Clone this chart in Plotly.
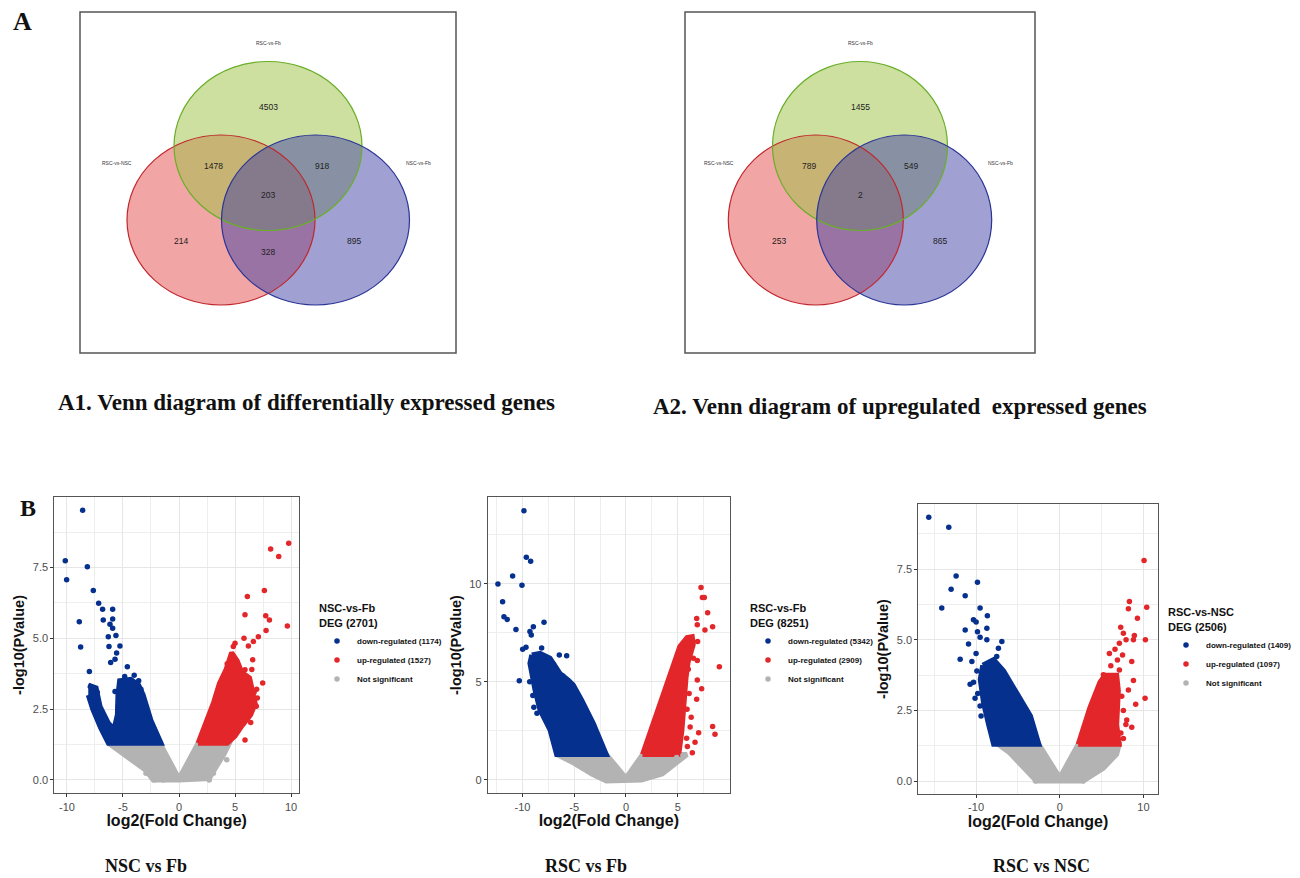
import plotly.graph_objects as go

W, H = 1300, 878

# ---------------- Venn data ----------------
venn_sets = ["RSC-vs-NSC", "RSC-vs-Fb", "NSC-vs-Fb"]
venn_regions = ["RSC-vs-Fb only", "RSC-vs-NSC & RSC-vs-Fb", "RSC-vs-Fb & NSC-vs-Fb",
                "all three", "RSC-vs-NSC only", "RSC-vs-NSC & NSC-vs-Fb", "NSC-vs-Fb only"]
a1_counts = [4503, 1478, 918, 203, 214, 328, 895]
a2_counts = [1455, 789, 549, 2, 253, None, 865]

# ---------------- Volcano data ----------------
# NSC-vs-Fb
v1_down_n, v1_up_n = 1174, 1527
v1_down_x = [-8.6, -10.15, -10.03, -8.18, -8.9, -8.78, -7.65, -7.17, -6.82, -5.92, -6.76, -5.92, -6.16, -5.92,
             -6.31, -5.63, -6.25, -5.27, -5.57, -6.1, -5.71, -8.0, -4.61, -5.71, -5.42, -5.21, -4.85,
             -7.9, -7.6, -7.3, -7.5, -7.2, -6.9, -4.0, -3.6, -3.4]
v1_down_y = [9.52, 7.74, 7.07, 7.53, 5.59, 4.69, 6.69, 6.24, 6.03, 6.03, 5.65, 5.68, 5.5, 5.36,
             5.06, 5.1, 4.71, 4.73, 4.48, 4.15, 4.26, 3.83, 4.0, 3.12, 2.61, 2.3, 3.65,
             3.3, 3.25, 3.1, 2.6, 2.3, 2.0, 3.7, 3.5, 3.2]
v1_down_cloud_x = [-8.1, -7.4, -7.05, -6.3, -5.8, -5.5, -5.45, -5.3, -4.3, -3.6, -3.2, -2.5, -1.6, -6.3, -7.0, -7.7, -8.1]
v1_down_cloud_y = [3.35, 3.25, 2.6, 2.0, 1.8, 2.3, 3.0, 3.5, 3.55, 3.35, 3.0, 2.1, 1.3, 1.3, 1.85, 2.5, 3.0]
v1_up_x = [9.79, 8.18, 8.9, 7.62, 6.1, 5.89, 7.74, 8.07, 9.67, 7.77, 7.08, 6.64, 5.8, 5.0, 4.85, 6.19,
           6.58, 7.47, 6.93, 6.99, 6.4, 5.89, 5.15, 5.89, 6.5, 6.7, 6.9, 6.2, 4.3, 3.9]
v1_up_y = [8.36, 8.15, 7.89, 6.69, 6.48, 5.83, 5.8, 5.65, 5.44, 5.28, 5.06, 4.89, 5.0, 4.83, 4.71, 4.73,
           4.24, 3.42, 3.2, 2.89, 2.03, 1.41, 1.77, 3.89, 3.9, 3.1, 2.6, 2.3, 4.1, 3.6]
v1_up_cloud_x = [1.7, 2.5, 3.1, 3.6, 4.2, 4.7, 5.2, 5.6, 6.3, 6.8, 6.4, 5.6, 5.0, 4.3, 1.7]
v1_up_cloud_y = [1.3, 2.1, 2.75, 3.4, 3.9, 4.5, 4.2, 3.8, 3.6, 2.7, 2.3, 1.9, 1.55, 1.3, 1.3]
v1_ns_x = [4.26, 3.07, 2.7, -2.95, -2.2, -1.4]
v1_ns_y = [0.71, 0.24, 0.0, 0.24, 0.0, 0.0]
v1_ns_cloud_x = [-6.3, -1.7, 0.0, 1.7, 4.5, 4.0, 3.3, 2.7, 0.0, -2.3, -3.0, -4.5, -5.5, -6.3]
v1_ns_cloud_y = [1.3, 1.3, 0.05, 1.3, 1.3, 0.9, 0.45, 0.05, 0.0, 0.0, 0.35, 0.8, 1.1, 1.3]

# RSC-vs-Fb
v2_down_n, v2_up_n = 5342, 2909
v2_down_x = [-9.86, -9.63, -9.21, -10.95, -12.37, -10.05, -11.92, -11.79, -11.47, -7.92, -10.63, -8.95,
             -9.28, -9.15, -9.66, -9.98, -8.15, -10.31, -6.44, -5.73, -9.3, -9.0, -8.9, -8.6, -7.0, -6.1]
v2_down_y = [13.72, 11.34, 11.14, 10.39, 9.98, 9.92, 9.08, 8.32, 8.18, 8.03, 7.67, 7.81,
             7.56, 7.39, 6.76, 6.66, 6.72, 5.06, 6.37, 6.33, 5.0, 4.3, 3.7, 3.4, 5.9, 5.3]
v2_down_cloud_x = [-9.1, -8.3, -7.34, -6.38, -5.57, -5.09, -4.28, -3.16, -1.9, -6.7, -7.34, -8.31, -8.79, -9.28, -9.1]
v2_down_cloud_y = [6.37, 6.45, 6.2, 5.43, 5.09, 4.84, 4.07, 2.89, 1.3, 1.3, 2.55, 3.57, 4.58, 5.94, 6.37]
v2_up_x = [7.25, 7.38, 7.57, 7.89, 6.83, 6.89, 8.37, 7.63, 9.02, 6.92, 6.51, 6.89, 6.02, 6.89, 7.31,
           6.83, 8.37, 8.6, 7.02, 5.86, 6.67, 6.41, 5.93, 6.1, 5.9, 6.3, 6.2]
v2_up_y = [9.81, 9.3, 9.3, 8.52, 8.23, 7.91, 7.81, 7.64, 5.77, 7.05, 6.2, 6.08, 5.64, 5.09, 4.65,
           4.11, 2.72, 2.33, 2.41, 2.12, 1.92, 1.39, 1.7, 4.4, 3.6, 3.2, 2.7]
v2_up_cloud_x = [1.6, 3.0, 4.2, 4.6, 5.2, 5.9, 6.4, 6.5, 6.0, 5.8, 5.6, 5.4, 5.1, 1.6]
v2_up_cloud_y = [1.3, 3.4, 5.2, 5.95, 6.8, 7.25, 7.3, 6.9, 6.0, 5.2, 3.8, 2.5, 1.3, 1.3]
v2_ns_x = [-1.77, 4.9, 5.5]
v2_ns_y = [0.0, 1.15, 1.25]
v2_ns_cloud_x = [-6.7, -1.9, 0.0, 1.6, 5.9, 5.0, 3.5, 1.5, -1.9, -3.3, -5.0, -6.7]
v2_ns_cloud_y = [1.3, 1.3, 0.1, 1.3, 1.3, 0.9, 0.3, 0.0, -0.05, 0.3, 0.85, 1.3]

# RSC-vs-NSC
v3_down_n, v3_up_n = 1409, 1097
v3_down_x = [-15.65, -13.26, -12.38, -12.98, -9.83, -11.3, -14.1, -9.52, -8.65, -10.31, -9.99, -11.3, -9.83,
             -8.71, -9.52, -8.71, -6.92, -10.9, -10.0, -11.9, -10.5, -10.71, -7.33, -7.53, -10.12, -9.52,
             -9.9, -10.3, -9.8, -9.4, -6.3, -5.8]
v3_down_y = [9.34, 8.99, 7.26, 6.79, 7.04, 6.56, 6.13, 6.13, 5.85, 5.71, 5.63, 5.35, 5.29,
             5.41, 5.09, 5.0, 4.94, 4.85, 4.52, 4.31, 4.23, 3.43, 4.7, 4.41, 2.93, 2.66,
             3.9, 3.5, 3.1, 2.3, 3.4, 3.0]
v3_down_cloud_x = [-9.2, -7.9, -6.7, -5.9, -4.7, -3.5, -2.5, -7.9, -8.5, -9.1, -9.5, -9.2]
v3_down_cloud_y = [4.1, 4.3, 3.9, 3.5, 2.9, 2.3, 1.3, 1.3, 2.0, 2.75, 3.6, 4.1]
v3_up_x = [10.07, 8.32, 8.2, 10.39, 8.8, 9.28, 7.28, 7.6, 7.92, 8.91, 10.23, 7.12, 6.6, 7.5, 5.93,
           6.89, 6.1, 8.6, 7.12, 8.8, 8.2, 10.19, 9.07, 8.0, 8.6, 7.6, 5.21, 7.4, 7.6, 7.9, 7.3]
v3_up_y = [7.81, 6.36, 6.1, 6.15, 5.0, 5.76, 5.45, 5.23, 5.0, 5.15, 5.0, 4.88, 4.67, 4.46, 4.52,
           4.29, 4.08, 4.23, 3.93, 3.56, 3.22, 2.93, 2.72, 2.16, 1.9, 1.51, 3.76, 3.0, 2.5, 2.0, 1.7]
v3_up_cloud_x = [2.2, 3.6, 4.8, 5.4, 6.8, 7.0, 6.8, 7.1, 2.2]
v3_up_cloud_y = [1.3, 2.6, 3.5, 3.75, 3.75, 3.2, 2.0, 1.3, 1.3]
v3_ns_x = [-2.9, 2.8]
v3_ns_y = [0.0, 0.0]
v3_ns_cloud_x = [-7.4, -2.5, 0.0, 2.2, 7.1, 6.8, 5.2, 2.8, -2.8, -4.0, -6.0, -7.4]
v3_ns_cloud_y = [1.3, 1.3, 0.12, 1.3, 1.3, 0.95, 0.45, 0.0, 0.0, 0.4, 1.0, 1.3]

# tick labels
v1_xticks = [-10, -5, 0, 5, 10]
v1_yticks = [0.0, 2.5, 5.0, 7.5]
v2_xticks = [-10, -5, 0, 5]
v2_yticks = [0, 5, 10]
v3_xticks = [-10, 0, 10]
v3_yticks = [0.0, 2.5, 5.0, 7.5]

# ---------------- styling ----------------
BLUE = "#06308e"
RED = "#e3262a"
GREY = "#b3b3b3"
SANS = "Liberation Sans, Arial, sans-serif"
SERIF = "Liberation Serif, Times New Roman, serif"


def px(x):
    return x / W


def py(y):
    return 1 - y / H


fig = go.Figure()

# ---------------- Venn diagrams (drawn as shapes in paper coords) ----------------
venn_fill = {"red": "#e64b4b", "green": "#9bc141", "blue": "#4141a5"}
venn_line = {"red": "#c0272d", "green": "#6aae2a", "blue": "#2a3596"}

venn_panels = [
    dict(box=(80, 12, 456, 353), counts=a1_counts,
         circles={"red": (221, 220, 94, 85), "green": (268, 146, 94, 84.5), "blue": (315.5, 220, 94, 85)},
         set_pos=[(117, 163), (268, 43), (418, 163)],
         count_pos=[(268, 107), (213, 166), (322, 166), (268, 195), (181, 241), (268, 252), (354, 241)]),
    dict(box=(685, 12, 1035, 353), counts=a2_counts,
         circles={"red": (815.8, 220, 87.5, 85), "green": (860, 146, 87.5, 84.5), "blue": (904.2, 220, 87.5, 85)},
         set_pos=[(719, 163), (860, 43), (1000, 163)],
         count_pos=[(860, 107), (809, 166), (911, 166), (860, 195), (779, 241), (860, 252), (940, 241)]),
]

shapes = []
annotations = []
for p in venn_panels:
    x0, y0, x1, y1 = p["box"]
    shapes.append(dict(type="rect", xref="paper", yref="paper", x0=px(x0), x1=px(x1), y0=py(y1), y1=py(y0),
                       line=dict(color="#555555", width=1.5), fillcolor="rgba(0,0,0,0)"))
    for key in ["red", "green", "blue"]:
        cx, cy, rx, ry = p["circles"][key]
        shapes.append(dict(type="circle", xref="paper", yref="paper",
                           x0=px(cx - rx), x1=px(cx + rx), y0=py(cy + ry), y1=py(cy - ry),
                           fillcolor=venn_fill[key], opacity=0.5, line=dict(width=0)))
    for key in ["red", "green", "blue"]:
        cx, cy, rx, ry = p["circles"][key]
        shapes.append(dict(type="circle", xref="paper", yref="paper",
                           x0=px(cx - rx), x1=px(cx + rx), y0=py(cy + ry), y1=py(cy - ry),
                           fillcolor="rgba(0,0,0,0)", line=dict(color=venn_line[key], width=1.2)))
    for name, (sx, sy) in zip(venn_sets, p["set_pos"]):
        annotations.append(dict(x=px(sx), y=py(sy), xref="paper", yref="paper", text=name, showarrow=False,
                                font=dict(family=SANS, size=5, color="#333333"), xanchor="center", yanchor="middle"))
    for c, (cx, cy) in zip(p["counts"], p["count_pos"]):
        if c is None:
            continue
        annotations.append(dict(x=px(cx), y=py(cy), xref="paper", yref="paper", text=str(c), showarrow=False,
                                font=dict(family=SANS, size=8.5, color="#222222"), xanchor="center", yanchor="middle"))

# panel texts
texts = [
    ("<b>A</b>", 22, 22, 26),
    ("<b>B</b>", 28, 508, 24),
    ("<b>A1. Venn diagram of differentially expressed genes</b>", 306, 402, 23),
    ("<b>A2. Venn diagram of upregulated  expressed genes</b>", 900, 406, 23),
    ("<b>NSC vs Fb</b>", 146, 866, 18),
    ("<b>RSC vs Fb</b>", 586, 866, 18),
    ("<b>RSC vs NSC</b>", 1041, 866, 18),
]
for t, x, y, s in texts:
    annotations.append(dict(x=px(x), y=py(y), xref="paper", yref="paper", text=t.replace("  ", "&nbsp; "),
                            showarrow=False, font=dict(family=SERIF, size=s, color="#111111"),
                            xanchor="center", yanchor="middle"))

# ---------------- Volcano plots ----------------
volcanos = [
    dict(name="NSC-vs-Fb", dn=v1_down_n, un=v1_up_n,
         down=(v1_down_x, v1_down_y), down_c=(v1_down_cloud_x, v1_down_cloud_y),
         up=(v1_up_x, v1_up_y), up_c=(v1_up_cloud_x, v1_up_cloud_y),
         ns=(v1_ns_x, v1_ns_y), ns_c=(v1_ns_cloud_x, v1_ns_cloud_y),
         xdom=(54.3, 299), ydom=(496.7, 793.3), xr=[-11.13, 10.71], yr=[-0.47, 10.0],
         xt=v1_xticks, yt=v1_yticks, yfmt=".1f", xminor=2.5, yminor=1.25,
         leg=(317, 598), leg_anchor="left"),
    dict(name="RSC-vs-Fb", dn=v2_down_n, un=v2_up_n,
         down=(v2_down_x, v2_down_y), down_c=(v2_down_cloud_x, v2_down_cloud_y),
         up=(v2_up_x, v2_up_y), up_c=(v2_up_cloud_x, v2_up_cloud_y),
         ns=(v2_ns_x, v2_ns_y), ns_c=(v2_ns_cloud_x, v2_ns_cloud_y),
         xdom=(487.7, 730), ydom=(496.7, 793.3), xr=[-13.36, 10.05], yr=[-0.68, 14.43],
         xt=v2_xticks, yt=v2_yticks, yfmt="d", xminor=2.5, yminor=2.5,
         leg=(748, 598), leg_anchor="left"),
    dict(name="RSC-vs-NSC", dn=v3_down_n, un=v3_up_n,
         down=(v3_down_x, v3_down_y), down_c=(v3_down_cloud_x, v3_down_cloud_y),
         up=(v3_up_x, v3_up_y), up_c=(v3_up_cloud_x, v3_up_cloud_y),
         ns=(v3_ns_x, v3_ns_y), ns_c=(v3_ns_cloud_x, v3_ns_cloud_y),
         xdom=(918.3, 1157.7), ydom=(504.3, 794), xr=[-16.9, 11.7], yr=[-0.46, 9.8],
         xt=v3_xticks, yt=v3_yticks, yfmt=".1f", xminor=5, yminor=1.25,
         leg=(1297, 602), leg_anchor="right"),
]

MS = 5.5
for i, v in enumerate(volcanos):
    n = i + 1
    xa = "x" if n == 1 else f"x{n}"
    ya = "y" if n == 1 else f"y{n}"
    lg = "legend" if n == 1 else f"legend{n}"
    # clouds (dense areas)
    for (cx, cy), col in [(v["ns_c"], GREY), (v["down_c"], BLUE), (v["up_c"], RED)]:
        fig.add_trace(go.Scatter(x=cx, y=cy, mode="lines", fill="toself", fillcolor=col,
                                 line=dict(color=col, width=5), xaxis=xa, yaxis=ya,
                                 showlegend=False, hoverinfo="skip", legend=lg))
    # individual points
    fig.add_trace(go.Scatter(x=v["down"][0], y=v["down"][1], mode="markers", xaxis=xa, yaxis=ya,
                             marker=dict(color=BLUE, size=MS), name=f"down-regulated ({v['dn']})",
                             legend=lg, legendgroup=f"d{n}"))
    fig.add_trace(go.Scatter(x=v["up"][0], y=v["up"][1], mode="markers", xaxis=xa, yaxis=ya,
                             marker=dict(color=RED, size=MS), name=f"up-regulated ({v['un']})",
                             legend=lg, legendgroup=f"u{n}"))
    fig.add_trace(go.Scatter(x=v["ns"][0], y=v["ns"][1], mode="markers", xaxis=xa, yaxis=ya,
                             marker=dict(color=GREY, size=MS), name="Not significant",
                             legend=lg, legendgroup=f"n{n}"))

    axis_common = dict(showline=True, mirror=True, linecolor="#555555", linewidth=1,
                       ticks="outside", ticklen=3, tickcolor="#333333", tickwidth=1,
                       showgrid=True, gridcolor="#e6e6e6", gridwidth=1.2, zeroline=False,
                       tickfont=dict(family=SANS, size=11, color="#4d4d4d"), fixedrange=True)
    xkey = "xaxis" if n == 1 else f"xaxis{n}"
    ykey = "yaxis" if n == 1 else f"yaxis{n}"
    fig.update_layout({
        xkey: dict(axis_common, domain=[px(v["xdom"][0]), px(v["xdom"][1])], range=v["xr"],
                   anchor=ya, tickvals=v["xt"], ticktext=[str(t) for t in v["xt"]],
                   minor=dict(tick0=v["xminor"], dtick=v["xminor"] * 2, showgrid=True,
                              gridcolor="#eeeeee", gridwidth=0.6),
                   title=dict(text="<b>log2(Fold Change)</b>", standoff=2,
                              font=dict(family=SANS, size=16, color="#111111"))),
        ykey: dict(axis_common, domain=[py(v["ydom"][1]), py(v["ydom"][0])], range=v["yr"],
                   anchor=xa, tickvals=v["yt"],
                   ticktext=[format(t, v["yfmt"]) if v["yfmt"] != "d" else str(int(t)) for t in v["yt"]],
                   minor=dict(tick0=v["yminor"], dtick=v["yminor"] * 2, showgrid=True,
                              gridcolor="#eeeeee", gridwidth=0.6),
                   title=dict(text="<b>-log10(PValue)</b>", standoff=4,
                              font=dict(family=SANS, size=14.5, color="#111111"))),
        lg: dict(x=px(v["leg"][0]), y=py(v["leg"][1]), xanchor=v["leg_anchor"], yanchor="top",
                 bgcolor="rgba(0,0,0,0)", borderwidth=0, itemsizing="trace", tracegroupgap=0,
                 font=dict(family=SANS, size=8, color="#111111", weight="bold"),
                 title=dict(text=f"{v['name']}<br>DEG ({v['dn'] + v['un']})",
                            font=dict(family=SANS, size=11, color="#111111", weight="bold"))),
    })

fig.update_layout(width=W, height=H, margin=dict(l=0, r=0, t=0, b=0),
                  paper_bgcolor="white", plot_bgcolor="white",
                  shapes=shapes, annotations=annotations)

page_css = ("document.documentElement.style.margin='0';document.documentElement.style.overflow='hidden';"
            "document.body.style.margin='0';document.body.style.overflow='hidden';")
fig.write_html("out.html", post_script=page_css, config={"displayModeBar": False})
